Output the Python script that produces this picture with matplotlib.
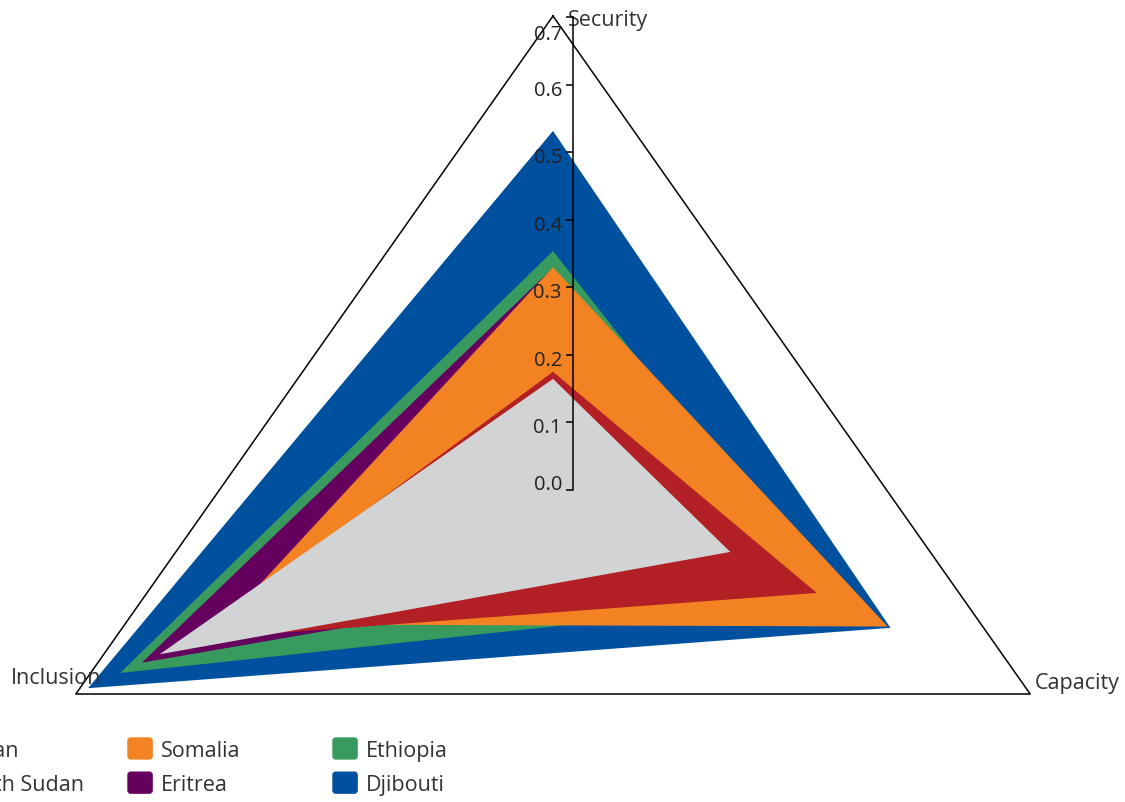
import numpy as np
import matplotlib
matplotlib.use("Agg")
import matplotlib.pyplot as plt
import matplotlib.patches as mpatches
from matplotlib.legend_handler import HandlerPatch

plt.rcParams['font.family'] = ['Open Sans', 'DejaVu Sans']

# data
dims = ["Security", "Capacity", "Inclusion"]
countries = ["Sudan", "South Sudan", "Somalia", "Eritrea", "Ethiopia", "Djibouti"]
colors = ["#d1d3d4", "#b22025", "#f28222", "#66005f", "#389a5e", "#0050a0"]
sudan = [0.138, 0.26, 0.577]
south_sudan = [0.149, 0.387, 0.531]
somalia = [0.311, 0.491, 0.484]
eritrea = [0.31, 0.28, 0.603]
ethiopia = [0.336, 0.40, 0.635]
djibouti = [0.522, 0.495, 0.682]
values = [sudan, south_sudan, somalia, eritrea, ethiopia, djibouti]
rmax = 0.7
ticks = [0.0, 0.1, 0.2, 0.3, 0.4, 0.5, 0.6, 0.7]

W, H = 1125, 803
fig = plt.figure(figsize=(W / 100, H / 100), dpi=100)

# radar drawn on a plain axes, centre and scale picked to fit the frame
cx, cy = 553, 469
sx, sy = 551 / rmax, 452 / rmax
ax = fig.add_axes([0, 0, 1, 1])
ax.set_xlim(-cx / sx, (W - cx) / sx)
ax.set_ylim(-(H - cy) / sy, cy / sy)
ax.axis('off')

ang = np.deg2rad([0, 120, 240])
for name, col, v in reversed(list(zip(countries, colors, values))):
    v = np.array(v)
    ax.fill(v * np.sin(ang), v * np.cos(ang), color=col, lw=0, label=name)

ox = rmax * np.sin(ang)
oy = rmax * np.cos(ang)
ax.plot(np.append(ox, ox[0]), np.append(oy, oy[0]), color='black', lw=1.1)

px = 0.72  # points per pixel
offsets = [(15, -4, 'left'), (5, 11, 'left'), (25, 17, 'right')]
for d, x, y, (dx, dy, ha) in zip(dims, ox, oy, offsets):
    ax.annotate(d, (x, y), xytext=(dx * px, dy * px), textcoords='offset points',
                ha=ha, va='center', fontsize=15.5, color='#333333')

# radial scale axis
ax2 = fig.add_axes([573 / W, (H - 491) / H, 0.0001, (491 - 18) / H])
ax2.set_ylim(0, rmax)
ax2.patch.set_visible(False)
for s in ['top', 'right', 'bottom']:
    ax2.spines[s].set_visible(False)
ax2.spines['left'].set_linewidth(1.1)
ax2.set_xticks([])
ax2.set_yticks(ticks, labels=[""] * len(ticks))
ax2.tick_params(axis='y', length=5, width=1.1)
# labels sit a little below their ticks; end labels kept inside the axis
for t in ticks:
    dy = 6 if t == ticks[0] else (-17 if t == ticks[-1] else -5)
    ax2.annotate(f"{t:.1f}", (0, t), xycoords=('axes fraction', 'data'),
                 xytext=(-11 * px, dy * px), textcoords='offset points',
                 ha='right', va='center', fontsize=14.5, color='#222222')


def rounded(legend, orig_handle, xdescent, ydescent, width, height, fontsize):
    return mpatches.FancyBboxPatch((-xdescent, -ydescent), width, height,
                                   boxstyle="round,pad=0,rounding_size=2")


# legend in three columns of two
col_x = [-77, 128, 333]
for i, x0 in enumerate(col_x):
    hs = [mpatches.Patch(color=colors[j]) for j in (2 * i, 2 * i + 1)]
    ls = [countries[j] for j in (2 * i, 2 * i + 1)]
    fig.legend(hs, ls, loc='upper left', bbox_to_anchor=(x0 / W, 1 - 739 / H),
               frameon=False, fontsize=15.5, handlelength=1.12, handleheight=1.12,
               handletextpad=0.4, labelspacing=0.53, borderpad=0, borderaxespad=0,
               labelcolor='#333333',
               handler_map={mpatches.Patch: HandlerPatch(patch_func=rounded)})

fig.savefig("out.png", dpi=100)
